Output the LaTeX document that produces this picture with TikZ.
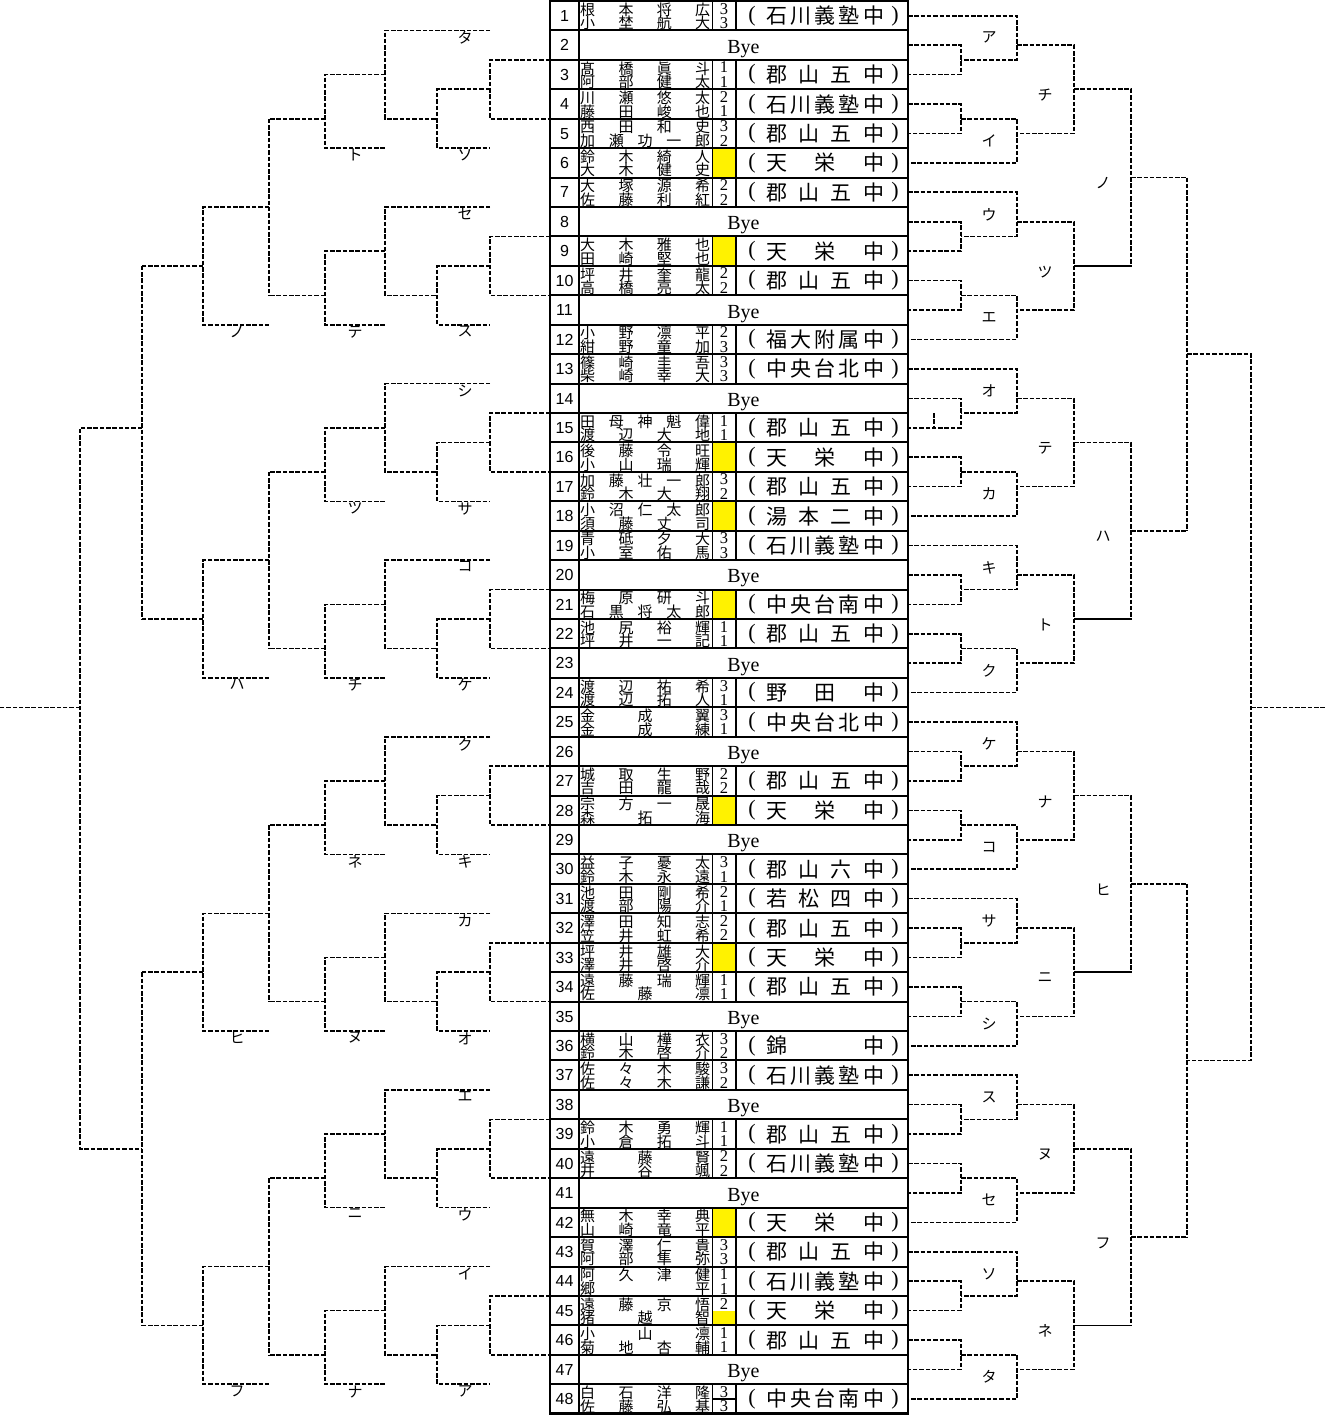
\documentclass[tikz,border=0pt]{standalone}
\usepackage{fontspec}
\setmainfont{Liberation Serif}
\newfontfamily\jp{Noto Sans CJK JP}
\newfontfamily\numf{Liberation Sans}

% spread the characters of a word over the whole box
\makeatletter
\newcommand{\spreadit}[1]{\expandafter\spread@i#1\@nil}
\def\spread@i#1#2\@nil{#1\ifx\relax#2\relax\else\hfill\spread@i#2\@nil\fi}
\makeatother

\tikzset{
  bk/.style={line width=1.6pt, dash pattern=on 4.5pt off 1.8pt},
  nm/.style={inner sep=0pt, anchor=west, font=\jp\fontsize{15}{15}\selectfont, text height=13.2pt, text depth=1.8pt},
  sch/.style={inner sep=0pt, anchor=west, font=\jp\fontsize{21}{21}\selectfont, text height=18.5pt, text depth=2.5pt},
  paren/.style={inner sep=0pt, font=\fontsize{22}{22}\selectfont},
  pts/.style={inner sep=0pt, font=\fontsize{16.5}{16.5}\selectfont, text height=11.2pt, text depth=0pt},
  num/.style={inner sep=0pt, font=\numf\fontsize{16}{16}\selectfont, text height=11.4pt, text depth=0pt},
  bye/.style={inner sep=0pt, font=\fontsize{20}{20}\selectfont, text height=13.2pt, text depth=0pt},
  lbl/.style={inner sep=0pt, font=\jp\fontsize{15}{15}\selectfont},
  lbd/.style={lbl, anchor=north, inner sep=1pt},
}

\begin{document}
\begin{tikzpicture}[x=1pt,y=-29.43pt]
    \useasboundingbox (0,-0.034) rectangle (1326,48.25);

    % 1. Yellow score cells
    \foreach \r in {6,9,16,18,21,28,33,42}
        \fill[yellow] (713,\r-1) rectangle (735,\r);
    \fill[yellow] (713,44.5) rectangle (735,45);

    % 2. Table frame and row lines
    \draw[line width=2.4pt] (550,0) rectangle (908,48);
    \foreach \k in {1,...,47}
        \draw[line width=2pt] (550,\k) -- (908,\k);
    \draw[line width=2pt] (579,0) -- (579,48);

    % 3. Row numbers
    \foreach \n in {1,...,48}
        \node[num] (no\n) at (564.5,\n-0.5) {\n};

    % 4. Bye rows
    \foreach \n in {2,8,11,14,20,23,26,29,35,38,41,47}
        \node[bye] (by\n) at (743.5,\n-0.45) {Bye};

    % 5. Entries: number / names / points / school
    \foreach \n/\nmA/\nmB/\ptA/\ptB/\schl in {
        1/根本将広/小埜航大/3/3/石川義塾中,
        3/髙橋眞斗/阿部健太/1/1/郡山五中,
        4/川瀬悠太/藤田峻也/2/1/石川義塾中,
        5/西田和史/加瀬功一郎/3/2/郡山五中,
        6/鈴木綺人/大木健史/{}/{}/天栄中,
        7/大塚源希/佐藤利紅/2/2/郡山五中,
        9/大木雅也/田崎堅也/{}/{}/天栄中,
        10/坪井奎龍/高橋亮太/2/2/郡山五中,
        12/小野凛平/紺野童加/2/3/福大附属中,
        13/篠崎圭吾/柴崎幸大/3/3/中央台北中,
        15/田母神魁偉/渡辺大地/1/1/郡山五中,
        16/後藤令旺/小山瑞輝/{}/{}/天栄中,
        17/加藤壮一郎/鈴木大翔/3/2/郡山五中,
        18/小沼仁太郎/須藤丈司/{}/{}/湯本二中,
        19/青砥夕大/小室佑馬/3/3/石川義塾中,
        21/梅原研斗/石黒将太郎/{}/{}/中央台南中,
        22/池尻裕輝/坪井一記/1/1/郡山五中,
        24/渡辺祐希/渡辺拓人/3/1/野田中,
        25/金成翼/金成練/3/1/中央台北中,
        27/城取生野/吉田龍哉/2/2/郡山五中,
        28/宗方一晟/森拓海/{}/{}/天栄中,
        30/益子憂太/鈴木永遠/3/1/郡山六中,
        31/池田剛希/渡部陽介/2/1/若松四中,
        32/澤田知志/笠井虹希/2/2/郡山五中,
        33/坪井雄大/澤井啓介/{}/{}/天栄中,
        34/遠藤瑞輝/佐藤凛/1/1/郡山五中,
        36/横山樺衣/鈴木啓介/3/2/錦中,
        37/佐々木駿/佐々木謙/3/2/石川義塾中,
        39/鈴木勇輝/小倉拓斗/1/1/郡山五中,
        40/遠藤賢/井谷颯/2/2/石川義塾中,
        42/無木幸典/山崎竜平/{}/{}/天栄中,
        43/賀澤仁貴/阿部隼弥/3/3/郡山五中,
        44/阿久津健/郷平/1/1/石川義塾中,
        45/遠藤京悟/猪越智/2/{}/天栄中,
        46/小山凛/菊地杏輔/1/1/郡山五中,
        48/白石洋隆/佐藤弘基/3/3/中央台南中}{
        \draw[line width=1pt] (712,\n-1) -- (712,\n);
        \draw[line width=2.4pt] (736,\n-1) -- (736,\n);
        \node[nm] (na\n) at (580,\n-0.71) {\makebox[130pt][s]{\spreadit\nmA}};
        \node[nm] (nb\n) at (580,\n-0.25) {\makebox[130pt][s]{\spreadit\nmB}};
        \node[pts] (pa\n) at (724,\n-0.745) {\ptA};
        \node[pts] (pb\n) at (724,\n-0.255) {\ptB};
        \node[paren] (pl\n) at (752,\n-0.5) {(};
        \node[paren] (pr\n) at (895,\n-0.5) {)};
        \node[sch] (sc\n) at (766,\n-0.5) {\makebox[118pt][s]{\spreadit\schl}};
    }
    \draw[line width=1.5pt] (712,47.5) -- (736,47.5);

    % 6. Right bracket, first and second round
    \foreach \p/\la/\lb/\lc in {0/ア/イ/チ, 6/ウ/エ/ツ, 12/オ/カ/テ, 18/キ/ク/ト,
                                24/ケ/コ/ナ, 30/サ/シ/ニ, 36/ス/セ/ヌ, 42/ソ/タ/ネ}{
        \draw[bk] (908,\p+1.5) -- (961,\p+1.5) -- (961,\p+2.5) -- (908,\p+2.5);
        \draw[bk] (908,\p+0.5) -- (1017,\p+0.5) -- (1017,\p+2) -- (961,\p+2);
        \draw[bk] (908,\p+3.5) -- (961,\p+3.5) -- (961,\p+4.5) -- (908,\p+4.5);
        \draw[bk] (961,\p+4) -- (1017,\p+4) -- (1017,\p+5.5) -- (908,\p+5.5);
        \draw[bk] (1017,\p+1.5) -- (1074,\p+1.5) -- (1074,\p+4.5) -- (1017,\p+4.5);
        \draw[bk] (1074,\p+3) -- (1131,\p+3);
        \node[lbl] (ra\p) at (989,\p+1.25) {\la};
        \node[lbl] (rb\p) at (989,\p+4.75) {\lb};
        \node[lbl] (rc\p) at (1045,\p+3.2) {\lc};
    }
    \draw[bk] (934,14) -- (934,14.55);

    % 7. Right bracket, later rounds
    \foreach \o/\lq in {0/ノ, 12/ハ, 24/ヒ, 36/フ}{
        \draw[bk] (1074,\o+3) -- (1131,\o+3) -- (1131,\o+9) -- (1074,\o+9);
        \draw[bk] (1131,\o+6) -- (1187,\o+6);
        \node[lbl] (rq\o) at (1103,\o+6.2) {\lq};
    }
    \draw[bk] (1187,6) -- (1187,18);
    \draw[bk] (1187,30) -- (1187,42);
    \draw[bk] (1187,12) -- (1251,12) -- (1251,36) -- (1187,36);
    \draw[bk] (1251,24) -- (1326,24);

    % 8. Left bracket, first and second round
    \foreach \p/\la/\lb/\lc in {0/タ/ソ/ト, 6/セ/ス/テ, 12/シ/サ/ツ, 18/コ/ケ/チ,
                                24/ク/キ/ネ, 30/カ/オ/ヌ, 36/エ/ウ/ニ, 42/イ/ア/ナ}{
        \draw[bk] (550,\p+2) -- (490,\p+2) -- (490,\p+4) -- (550,\p+4);
        \draw[bk] (490,\p+3) -- (437,\p+3) -- (437,\p+5) -- (490,\p+5);
        \draw[bk] (490,\p+1) -- (385,\p+1) -- (385,\p+4) -- (437,\p+4);
        \draw[bk] (385,\p+2.5) -- (325,\p+2.5) -- (325,\p+5) -- (385,\p+5);
        \draw[bk] (325,\p+4) -- (269,\p+4);
        \node[lbd] (la\p) at (465,\p+1) {\la};
        \node[lbd] (lb\p) at (465,\p+5) {\lb};
        \node[lbd] (lc\p) at (355,\p+5) {\lc};
    }

    % 9. Left bracket, later rounds
    \foreach \o/\lq in {0/ノ, 12/ハ, 24/ヒ, 36/フ}{
        \draw[bk] (269,\o+4) -- (269,\o+10);
        \draw[bk] (269,\o+7) -- (203,\o+7) -- (203,\o+11) -- (269,\o+11);
        \draw[bk] (203,\o+9) -- (142,\o+9);
        \node[lbd] (lq\o) at (237,\o+11) {\lq};
    }
    \draw[bk] (142,9) -- (142,21);
    \draw[bk] (142,33) -- (142,45);
    \draw[bk] (142,14.5) -- (80,14.5) -- (80,39) -- (142,39);
    \draw[bk] (80,24) -- (0,24);
\end{tikzpicture}
\end{document}
